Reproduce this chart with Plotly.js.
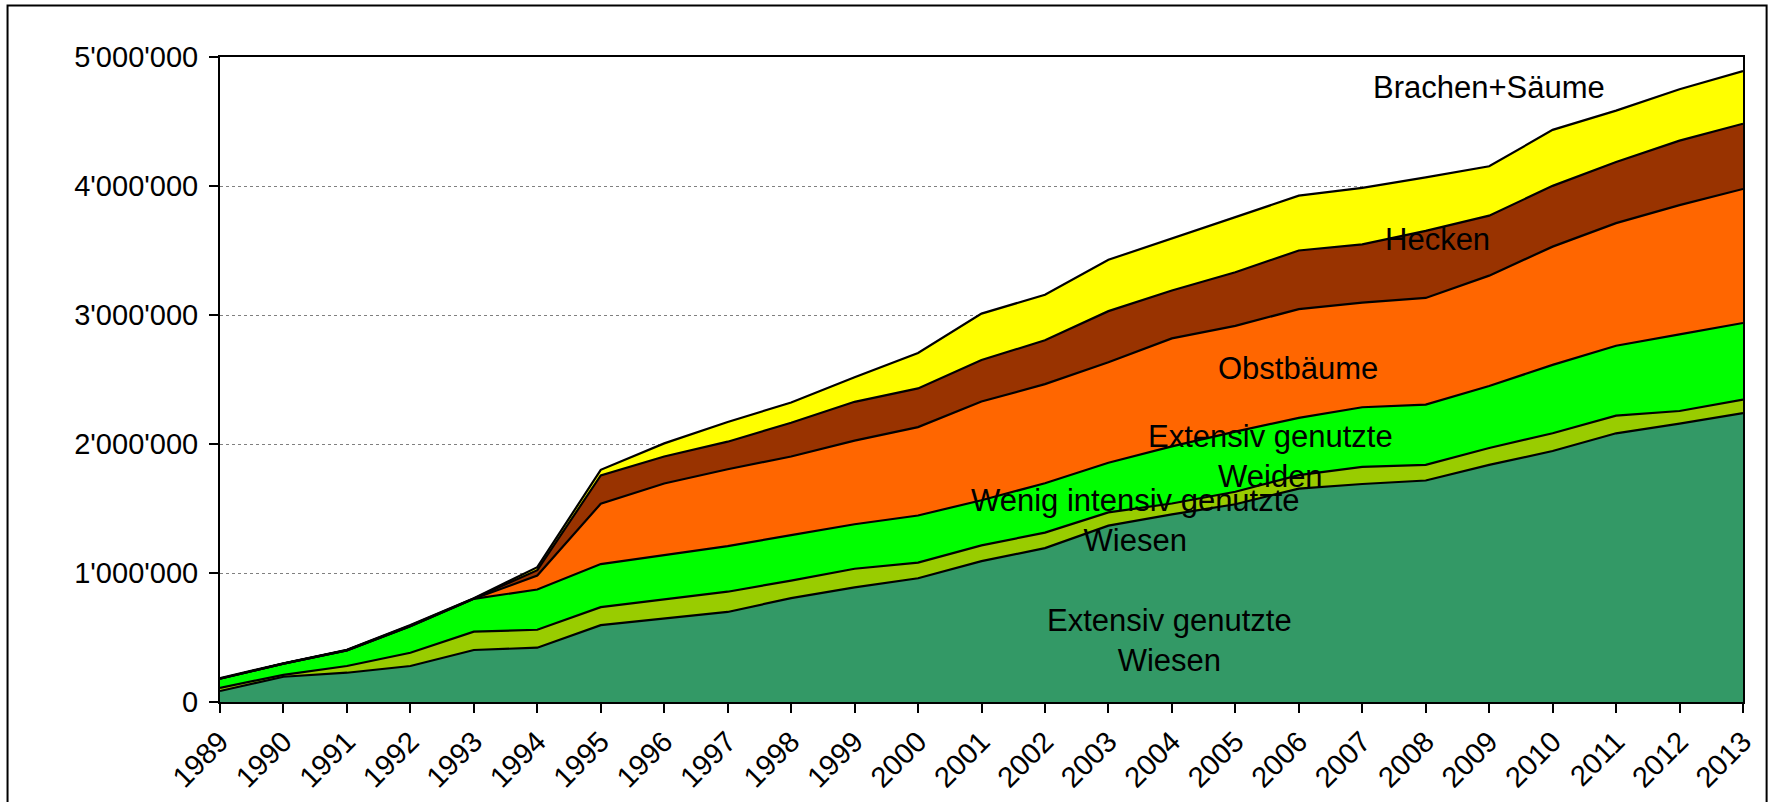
<!DOCTYPE html>
<html>
<head>
<meta charset="utf-8">
<script src="https://cdn.plot.ly/plotly-3.0.1.min.js"></script>
<style>
  html, body { margin: 0; padding: 0; background: #ffffff; }
  #chart { width: 1771px; height: 802px; }
</style>
</head>
<body>
<div id="chart"></div>
<script>
// ---- data ----
const years = [1989, 1990, 1991, 1992, 1993, 1994, 1995, 1996, 1997, 1998, 1999, 2000,
               2001, 2002, 2003, 2004, 2005, 2006, 2007, 2008, 2009, 2010, 2011, 2012, 2013];

const extWiesen = [85000, 196000, 227000, 279000, 403000, 421000, 596000, 646000, 698000, 805000, 889000, 959000,
                   1092000, 1193000, 1367000, 1455000, 1533000, 1654000, 1690000, 1717000, 1838000, 1946000, 2083000, 2158000, 2240000];
const wenigWiesen = [25000, 14000, 52000, 103000, 142000, 139000, 139000, 151000, 157000, 136000, 144000, 121000,
                     122000, 120000, 103000, 84000, 97000, 105000, 133000, 121000, 131000, 137000, 137000, 98000, 104000];
const extWeiden = [70000, 87000, 121000, 206000, 255000, 312000, 334000, 340000, 353000, 353000, 345000, 366000,
                   350000, 383000, 385000, 443000, 466000, 443000, 462000, 467000, 481000, 530000, 542000, 594000, 594000];
const obstbaeume = [0, 0, 0, 0, 0, 108000, 468000, 557000, 596000, 609000, 648000, 685000,
                    765000, 768000, 778000, 837000, 820000, 843000, 811000, 827000, 855000, 917000, 950000, 1002000, 1039000];
const hecken = [2000, 0, 2000, 4000, 2000, 42000, 219000, 209000, 214000, 262000, 301000, 300000,
                322000, 340000, 397000, 371000, 415000, 455000, 452000, 520000, 465000, 471000, 474000, 500000, 506000];
const brachen = [4000, 3000, 3000, 4000, 3000, 23000, 44000, 102000, 152000, 157000, 191000, 275000,
                 360000, 353000, 398000, 406000, 428000, 425000, 437000, 415000, 383000, 434000, 398000, 398000, 408000];

const seriesNames = ["Extensiv genutzte Wiesen", "Wenig intensiv genutzte Wiesen", "Extensiv genutzte Weiden",
                     "Obstbäume", "Hecken", "Brachen+Säume"];
const yTickVals = [0, 1000000, 2000000, 3000000, 4000000, 5000000];

// ---- styling ----
const fills = ["#339966", "#99CC00", "#00FF00", "#FF6600", "#993300", "#FFFF00"];
const seriesData = [extWiesen, wenigWiesen, extWeiden, obstbaeume, hecken, brachen];

const traces = seriesData.map((vals, i) => ({
  type: "scatter",
  mode: "lines",
  x: years,
  y: vals,
  name: seriesNames[i],
  stackgroup: "one",
  fillcolor: fills[i],
  line: { color: "#000000", width: 2.2 },
  showlegend: false,
  hoverinfo: "x+y+name"
}));

const fontFamily = "'Liberation Sans', Arial, sans-serif";
const labelFont = { family: fontFamily, size: 31, color: "#000000" };
const tickFont = { family: fontFamily, size: 29, color: "#000000" };

const annotations = [
  { x: 2009.0, y: 4760000, text: "Brachen+Säume" },
  { x: 2008.19, y: 3585000, text: "Hecken" },
  { x: 2005.98, y: 2589000, text: "Obstbäume" },
  { x: 2005.55, y: 1903000, text: "Extensiv genutzte<br>Weiden" },
  { x: 2003.43, y: 1407000, text: "Wenig intensiv genutzte<br>Wiesen" },
  { x: 2003.97, y: 477000, text: "Extensiv genutzte<br>Wiesen" }
].map(a => Object.assign({
  xref: "x", yref: "y", showarrow: false, font: labelFont,
  xanchor: "center", yanchor: "middle", align: "center"
}, a));

const layout = {
  width: 1771,
  height: 802,
  margin: { l: 220, r: 28, t: 57, b: 100, pad: 0 },
  paper_bgcolor: "#ffffff",
  plot_bgcolor: "#ffffff",
  separators: ".'",
  font: { family: fontFamily, size: 29, color: "#000000" },
  showlegend: false,
  xaxis: {
    type: "linear",
    range: [1989, 2013],
    tickmode: "array",
    tickvals: years,
    ticktext: years.map(String),
    tickangle: -45,
    ticks: "outside",
    ticklen: 9,
    tickwidth: 2,
    tickcolor: "#000000",
    showline: true,
    linecolor: "#000000",
    linewidth: 2,
    mirror: true,
    showgrid: false,
    zeroline: false,
    tickfont: tickFont
  },
  yaxis: {
    range: [0, 5000000],
    tickmode: "array",
    tickvals: yTickVals,
    tickformat: ",d",
    ticks: "outside",
    ticklen: 9,
    tickwidth: 2,
    tickcolor: "#000000",
    ticklabelstandoff: 5,
    showline: true,
    linecolor: "#000000",
    linewidth: 2,
    mirror: true,
    showgrid: true,
    gridcolor: "#808080",
    gridwidth: 1,
    griddash: "dot",
    zeroline: false,
    tickfont: tickFont
  },
  annotations: annotations,
  shapes: [
    {
      type: "rect", xref: "paper", yref: "paper",
      x0: -0.1395, x1: 1.0155, y0: -0.25, y1: 1.0798,
      line: { color: "#000000", width: 2 },
      fillcolor: "rgba(0,0,0,0)",
      layer: "below"
    }
  ]
};

Plotly.newPlot("chart", traces, layout, { displayModeBar: false, staticPlot: true });
</script>
</body>
</html>
